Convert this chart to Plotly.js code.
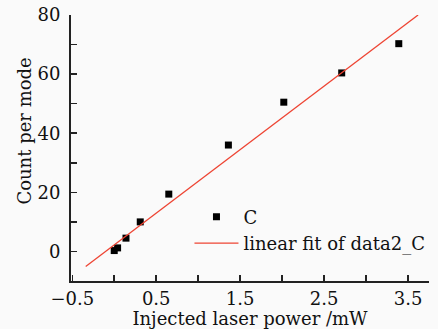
<!DOCTYPE html>
<html>
<head>
<meta charset="utf-8">
<script src="https://cdn.plot.ly/plotly-3.0.1.min.js"></script>
<style>html,body{margin:0;padding:0;background:#fafafa;}</style>
</head>
<body>
<div id="chart" style="width:438px;height:329px;"></div>
<script>
// Measured data points (series "C")
const powerX = [0.0, 0.04, 0.14, 0.31, 0.65, 1.36, 2.02, 2.71, 3.39];
const countY = [0.3, 1.2, 4.5, 10.0, 19.4, 36.0, 50.5, 60.4, 70.3];
// Linear fit endpoints
const fitX = [-0.34, 3.62];
const fitY = [-5.1, 80.0];

const xTickVals = [-0.5, 0.5, 1.5, 2.5, 3.5];
const yTickVals = [0, 20, 40, 60, 80];
const xTitle = 'Injected laser power /mW';
const yTitle = 'Count per mode';

const fontFam = '"DejaVu Serif", serif';
const fs = 18;

const traces = [
  {
    x: powerX, y: countY, mode: 'markers', type: 'scatter', name: 'C',
    marker: {symbol: 'square', size: 7, color: '#000000'}
  },
  {
    x: fitX, y: fitY, mode: 'lines', type: 'scatter', name: 'linear fit of data2_C',
    line: {color: '#ee4433', width: 1.3}
  }
];

const layout = {
  width: 438, height: 329,
  paper_bgcolor: '#fafafa', plot_bgcolor: '#fafafa',
  margin: {l: 71, r: 8, t: 15, b: 48},
  font: {family: fontFam, size: fs, color: '#111111'},
  showlegend: true,
  legend: {
    x: 0.33, y: 0.31, xanchor: 'left', yanchor: 'top',
    bgcolor: 'rgba(0,0,0,0)', font: {family: fontFam, size: fs, color: '#111111'},
    itemwidth: 44, tracegroupgap: 0
  },
  xaxis: {
    range: [-0.515, 3.75],
    tickmode: 'array', tickvals: xTickVals,
    ticks: 'inside', ticklen: 6, tickwidth: 1.5, tickcolor: '#222',
    minor: {tickmode: 'linear', tick0: 0, dtick: 0.5, ticks: 'inside', ticklen: 6, tickwidth: 1.5, tickcolor: '#222'},
    showline: true, linecolor: '#222', linewidth: 2,
    showgrid: false, zeroline: false,
    ticklabelstandoff: 0,
    tickfont: {family: fontFam, size: fs, color: '#111'},
    title: {text: xTitle, font: {family: fontFam, size: fs, color: '#111'}, standoff: 0}
  },
  yaxis: {
    range: [-10, 80],
    tickmode: 'array', tickvals: yTickVals,
    ticks: 'inside', ticklen: 6, tickwidth: 1.5, tickcolor: '#222',
    minor: {tickmode: 'linear', tick0: 0, dtick: 10, ticks: 'inside', ticklen: 6, tickwidth: 1.5, tickcolor: '#222'},
    showline: true, linecolor: '#222', linewidth: 2,
    showgrid: false, zeroline: false,
    ticklabelstandoff: 5,
    tickfont: {family: fontFam, size: fs, color: '#111'}
  },
  annotations: [{
    text: yTitle, textangle: -90, showarrow: false,
    xref: 'paper', yref: 'paper', x: -0.131, y: 0.562,
    xanchor: 'center', yanchor: 'middle',
    font: {family: fontFam, size: fs, color: '#111'}
  }]
};

Plotly.newPlot('chart', traces, layout, {displayModeBar: false, staticPlot: true});
</script>
</body>
</html>
